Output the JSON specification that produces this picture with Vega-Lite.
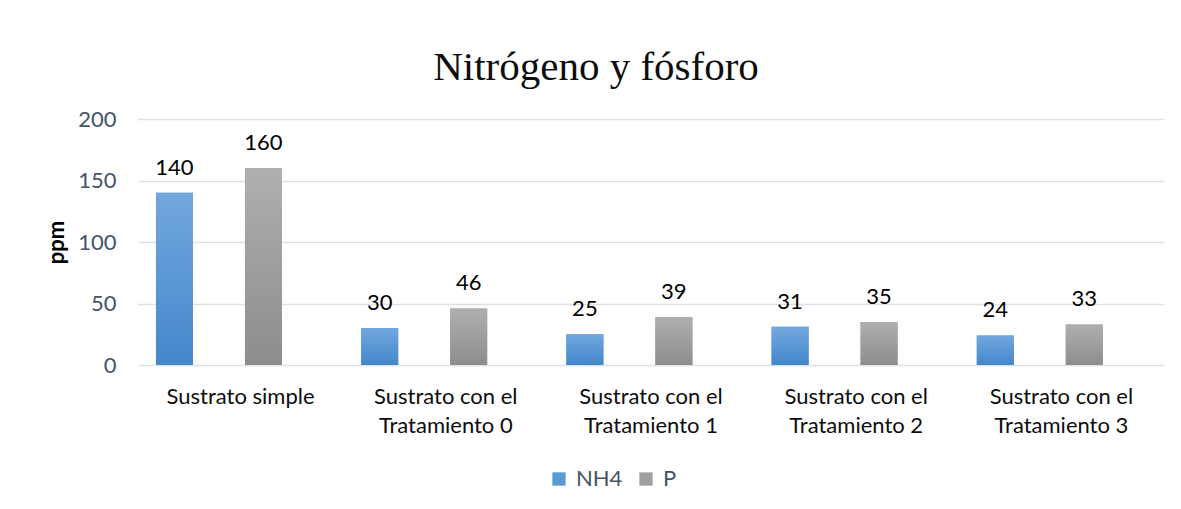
{
  "$schema": "https://vega.github.io/schema/vega-lite/v6.json",
  "width": 1026,
  "height": 246,
  "autosize": {"type": "none"},
  "padding": {"left": 138, "top": 119, "right": 17, "bottom": 144},
  "background": "white",
  "title": {
    "text": "Nitrógeno y fósforo",
    "font": "Liberation Serif",
    "fontSize": 41,
    "fontWeight": "normal",
    "color": "#0D0D0D",
    "anchor": "middle",
    "dx": -55,
    "baseline": "alphabetic",
    "offset": -13
  },
  "data": {
    "values": [
      {"category": "Sustrato simple", "series": "NH4", "value": 140},
      {"category": "Sustrato simple", "series": "P", "value": 160},
      {"category": "Sustrato con el Tratamiento 0", "series": "NH4", "value": 30},
      {"category": "Sustrato con el Tratamiento 0", "series": "P", "value": 46},
      {"category": "Sustrato con el Tratamiento 1", "series": "NH4", "value": 25},
      {"category": "Sustrato con el Tratamiento 1", "series": "P", "value": 39},
      {"category": "Sustrato con el Tratamiento 2", "series": "NH4", "value": 31},
      {"category": "Sustrato con el Tratamiento 2", "series": "P", "value": 35},
      {"category": "Sustrato con el Tratamiento 3", "series": "NH4", "value": 24},
      {"category": "Sustrato con el Tratamiento 3", "series": "P", "value": 33}
    ]
  },
  "encoding": {
    "x": {
      "field": "category",
      "type": "nominal",
      "sort": null,
      "scale": {"paddingInner": 0, "paddingOuter": 0},
      "axis": {
        "title": null,
        "labelAngle": 0,
        "labelFont": "Lato",
        "labelFontSize": 22,
        "labelColor": "#0D0D0D",
        "labelPadding": 21,
        "labelLineHeight": 29,
        "labelLimit": 0,
        "ticks": false,
        "domain": false,
        "grid": false,
        "labelExpr": "indexof(datum.label, ' Tratamiento') > 0 ? [substring(datum.label, 0, 15), substring(datum.label, 16)] : datum.label"
      }
    },
    "xOffset": {
      "field": "series",
      "type": "nominal",
      "scale": {"domain": ["NH4", "P"], "paddingInner": 0.584, "paddingOuter": 0.445, "align": 0.227}
    },
    "y": {
      "field": "value",
      "type": "quantitative",
      "scale": {"domain": [0, 200], "nice": false},
      "axis": {
        "title": "ppm",
        "titleFont": "Lato",
        "titleFontSize": 22,
        "titleFontWeight": "bold",
        "titleColor": "#000000",
        "titlePadding": 9,
        "labelFont": "Lato",
        "labelFontSize": 22,
        "labelColor": "#44546A",
        "labelPadding": 22,
        "ticks": false,
        "domain": false,
        "gridColor": "#DDE1E6",
        "gridWidth": 1.3,
        "values": [0, 50, 100, 150, 200]
      }
    }
  },
  "layer": [
    {
      "mark": {"type": "bar"},
      "encoding": {
        "color": {
          "field": "series",
          "type": "nominal",
          "scale": {"domain": ["NH4", "P"], "range": ["#5B9BD5", "#A0A0A0"]},
          "legend": {
            "orient": "none",
            "legendX": 410,
            "legendY": 349,
            "direction": "horizontal",
            "title": null,
            "symbolType": "square",
            "symbolSize": 177,
            "symbolStrokeWidth": 0,
            "labelFont": "Lato",
            "labelFontSize": 22,
            "labelColor": "#44546A",
            "labelOffset": 6,
            "columnPadding": 12,
            "padding": 0
          }
        }
      }
    },
    {
      "mark": {"type": "bar"},
      "encoding": {
        "fill": {
          "condition": {
            "test": "datum.series === 'NH4'",
            "value": {"gradient": "linear", "x1": 0, "y1": 0, "x2": 0, "y2": 1, "stops": [{"offset": 0, "color": "#72A7DE"}, {"offset": 1, "color": "#4487CB"}]}
          },
          "value": {"gradient": "linear", "x1": 0, "y1": 0, "x2": 0, "y2": 1, "stops": [{"offset": 0, "color": "#AFAFAF"}, {"offset": 1, "color": "#8D8D8D"}]}
        }
      }
    },
    {
      "mark": {"type": "text", "baseline": "alphabetic", "dy": -18, "font": "Lato", "fontSize": 22, "color": "#000000"},
      "encoding": {"text": {"field": "value", "type": "quantitative"}}
    }
  ],
  "config": {"view": {"stroke": null}}
}
